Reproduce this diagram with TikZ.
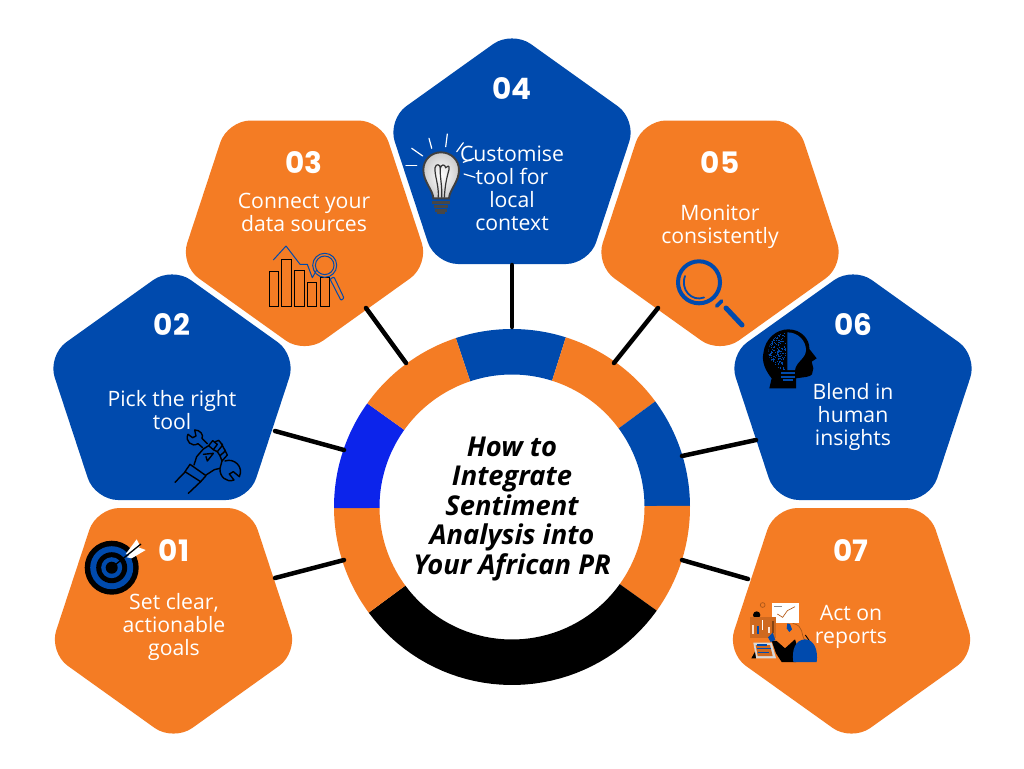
\documentclass[tikz,border=0pt]{standalone}
\usepackage{fontspec}
\setmainfont{Open Sans}
\newfontfamily\numfont{Poppins}
\definecolor{orng}{HTML}{F47C24}
\definecolor{blu}{HTML}{004AAD}
\definecolor{brt}{HTML}{0C24EB}
\tikzset{
 lab/.style={text=white,font=\fontsize{21.2}{23}\selectfont,align=center,inner sep=0pt,anchor=center},
 num/.style={text=white,font=\numfont\bfseries\fontsize{29.5}{30}\selectfont,inner sep=0pt,anchor=center},
 ttl/.style={text=black,font=\bfseries\itshape\fontsize{27.3}{29.5}\selectfont,align=center,inner sep=0pt,anchor=center},
 conn/.style={draw=black,line width=4.5pt,line cap=round},
 ink/.style={draw=black,line width=1.4pt,line join=round,line cap=round},
 ray/.style={draw=white,line width=1.2pt,line cap=round},
 zoomA/.style={shift={(170,425)},x=0.3333pt,y=-0.3333pt},
}
% name, cx, flat-side y, direction (+1 apex up, -1 apex down), colour
\newcommand{\pent}[5]{%
 \coordinate (#1) at (#2,#3-#4*104.4);
 \fill[#5,rounded corners=23pt]
  (#2,#3) -- (#2-77,#3) -- (#2-124.5,#3-#4*144.4) -- (#2,#3-#4*233.4)
  -- (#2+124.5,#3-#4*144.4) -- (#2+77,#3) -- cycle;
}
\newcommand{\seg}[3]{%
 \fill[#3] plot[domain=#1:#2,samples=40] ({512+178*cos(\x)},{507+178*sin(\x)})
  -- plot[domain=#2:#1,samples=40] ({512+132.5*cos(\x)},{507+132.5*sin(\x)}) -- cycle;
}
\begin{document}
\begin{tikzpicture}[x=1pt,y=-1pt]
\useasboundingbox (0,0) rectangle (1024,768);
\fill[white] (0,0) rectangle (1024,768);
% pentagons
\pent{p01}{173.5}{508}{-1}{orng}
\pent{p02}{172}{500}{1}{blu}
\pent{p03}{304.5}{120.5}{-1}{orng}
\pent{p04}{512}{264}{1}{blu}
\pent{p05}{720}{120.5}{-1}{orng}
\pent{p06}{853}{500}{1}{blu}
\pent{p07}{851.5}{508}{-1}{orng}
% ring
\seg{251.6}{287.6}{blu}
\seg{287.6}{323.6}{orng}
\seg{323.6}{359.6}{blu}
\seg{359.6}{395.6}{orng}
\seg{35.6}{143.6}{black}
\seg{143.6}{179.6}{orng}
\seg{179.6}{215.6}{brt}
\seg{215.6}{251.6}{orng}
% connector ends
\coordinate (a1) at (275,578); \coordinate (b1) at (344,560);
\coordinate (a2) at (275,431); \coordinate (b2) at (344,450);
\coordinate (a3) at (366,308); \coordinate (b3) at (406,363);
\coordinate (a4) at (512,265); \coordinate (b4) at (512,327);
\coordinate (a5) at (658,308); \coordinate (b5) at (614,363);
\coordinate (a6) at (756,440); \coordinate (b6) at (682,456);
\coordinate (a7) at (748,579); \coordinate (b7) at (682,560);
\foreach \i in {1,...,7} {\draw[conn] (a\i) -- (b\i);}
% icon 01: target
\fill[black] (111.7,567.7) circle[radius=27];
\fill[blu] (111.7,567.7) circle[radius=21.5];
\fill[black] (111.7,567.7) circle[radius=15.5];
\fill[blu] (111.7,567.7) circle[radius=10.5];
\fill[black] (111.7,567.7) circle[radius=6];
\fill[white] (125.7,554) -- (136.7,539.3) -- (140,546) -- (131,556) -- cycle;
\fill[white] (126.7,557.3) -- (138.3,547.3) -- (145.7,550) -- (131.7,558.3) -- cycle;
\draw[black,line width=1.3pt] (111.7,567.7) -- (141,544);
% icon 02: fist with wrench
\begin{scope}[zoomA]
 \draw[ink] (54,28) -- (68,38) -- (78,33) -- (74,15) .. controls (90,14) and (102,30) .. (96,40) -- (112,56);
 \draw[ink] (54,28) .. controls (44,48) and (66,68) .. (84,56) -- (98,68);
 \draw[ink] (165,108) .. controls (192,98) and (222,125) .. (208,155) -- (190,140) -- (178,147) -- (192,165) .. controls (170,174) and (148,155) .. (150,130);
 \draw[ink] (72,120) -- (80,95) -- (100,72) -- (116,62);
 \draw[ink] (116,62) -- (128,47) -- (142,58) -- (130,74) -- (116,62);
 \draw[ink] (136,50) -- (146,46) -- (158,60) -- (142,80) -- (130,74);
 \draw[ink] (154,56) -- (166,78) -- (150,92) -- (142,80);
 \draw[ink] (164,74) -- (172,90) -- (156,108) -- (150,92);
 \draw[ink] (100,88) -- (130,85) -- (112,108) -- (108,95);
 \draw[ink] (156,108) -- (150,130) -- (133,134) -- (108,150);
 \draw[ink] (60,118) -- (108,152) -- (92,170) -- (45,140) -- cycle;
 \draw[ink] (46,140) -- (15,172) (92,170) -- (55,205);
\end{scope}
% icon 03: bars and magnifier
\foreach \xa/\ya in {269/271,281.7/259.3,294.7/270,307.3/282.7,320/277.7}
 {\draw[black,line width=1pt] (\xa,\ya) rectangle (\xa+9.3,306.7);}
\draw[blu,line width=1pt,line join=round] (273.3,260) -- (286,246) -- (300,264.3) -- (307.3,264.3) -- (312.3,277.7) -- (316.7,270);
\draw[blu,line width=1pt] (324.7,265.3) circle[radius=12];
\draw[blu,line width=1pt] (324.7,265.3) circle[radius=9.3];
\draw[blu,line width=1pt,rounded corners=1pt] (330,279) -- (334,277) -- (344,298) -- (341,300.5) -- cycle;
% icon 04: bulb
\foreach \xa/\ya/\xb/\yb in {411.7/148.3/422.7/156,406/165.7/416.7/165.7,429/138.3/431.7/148.3,447.3/134/445.7/146.7,463.3/142.7/456.7/151.7,474/158.3/463.3/162.3,464/174/475/177.3}
 {\draw[ray] (\xa,\ya) -- (\xb,\yb);}
\begin{scope}[shift={(405,135)},x=0.3333pt,y=-0.3333pt]
 \shade[draw=black!75,line width=1.9pt,inner color=white,outer color=black!20]
  (85,190) .. controls (84,165) and (55,140) .. (55,105)
  .. controls (55,75) and (78,52) .. (108,52) .. controls (138,52) and (162,75) .. (162,105)
  .. controls (162,140) and (133,165) .. (132,190) -- cycle;
 \draw[black!80,line width=1.2pt] (100,188) .. controls (102,150) and (88,120) .. (90,98)
  .. controls (92,86) and (106,86) .. (106,100) .. controls (108,88) and (120,86) .. (122,98)
  .. controls (124,92) and (136,90) .. (132,104) .. controls (126,125) and (120,150) .. (118,188);
 \draw[black!80,line width=1.2pt] (106,100) .. controls (104,125) and (112,150) .. (110,188);
 \fill[black!72] (82,197) rectangle (134,206);
 \fill[black!72] (86,209) rectangle (130,218);
 \fill[black!72] (90,221) rectangle (126,230);
 \fill[black!72] (96,230) rectangle (120,238);
\end{scope}
% icon 05: magnifier
\draw[blu,line width=4pt] (699,282.3) circle[radius=21];
\draw[blu,line width=1.8pt,line cap=round] (685,276) .. controls (680,290) and (692,302) .. (704,297.5);
\draw[blu,line width=3.6pt,line cap=round] (716.7,306) -- (721.7,301);
\draw[blu,line width=5pt,line cap=round] (726,308) -- (742,325);
% icon 06: head
\begin{scope}[shift={(760,325)},x=0.3333pt,y=-0.3333pt]
 \fill[black] (28,190) -- (35,160) .. controls (15,135) and (5,110) .. (10,85)
  .. controls (15,40) and (50,13) .. (85,13) .. controls (125,13) and (150,45) .. (148,72)
  -- (170,100) -- (155,110) -- (160,130) -- (156,148) .. controls (150,156) and (135,156) .. (108,160) -- (108,190) -- cycle;
 \fill[blu] (82,22) .. controls (115,22) and (138,48) .. (138,75) .. controls (138,100) and (108,110) .. (105,135) -- (82,135) -- cycle;
 \begin{scope}
  \clip (78,24) .. controls (50,24) and (25,50) .. (25,85) .. controls (25,105) and (50,120) .. (55,135) -- (78,135) -- cycle;
  \pgfmathsetseed{11}
  \foreach \i in {1,...,190} {
   \pgfmathsetmacro{\dx}{22+rnd*56}
   \pgfmathsetmacro{\dy}{24+rnd*111}
   \fill[blu] (\dx,\dy) rectangle ++(3.2,3.2);
  }
 \end{scope}
 \fill[blu] (62,140) rectangle (105,147);
 \fill[blu] (63,152) rectangle (105,158);
 \fill[blu] (68,163) rectangle (100,168);
\end{scope}
% icon 07: analyst
\begin{scope}[shift={(740,590)},x=0.3333pt,y=-0.3333pt]
 \fill[white] (95,40) rectangle (178,98);
 \draw[orng!75!black,line width=0.7pt] (112,72) -- (128,82) -- (142,62) -- (165,50);
 \draw[black!45,line width=0.6pt] (102,48) -- (125,48);
 \draw[orng!70!black,line width=0.7pt] (68,45) circle[radius=24pt*0.1];
 \fill[black] (50,75) circle[radius=11pt*0.3333];
 \fill[orng!85!black] (30,82) rectangle (108,145);
 \fill[white!75!orng] (37,105) rectangle (42,132);
 \fill[blu] (52,108) rectangle (56,132);
 \fill[white] (65,90) rectangle (70,120);
 \fill[white!80!orng] (85,112) rectangle (90,130);
 \fill[black!45!orng] (96,92) rectangle (102,128);
 \fill[white!85!black] (40,158) -- (95,158) -- (108,205) -- (48,205) -- cycle;
 \fill[orng!85!black] (47,165) -- (90,165) -- (98,198) -- (53,198) -- cycle;
 \fill[blu] (50,162) rectangle (80,167);
 \fill[blu] (52,174) rectangle (92,178);
 \fill[blu] (54,186) rectangle (88,190);
 \fill[black] (34,205) -- (45,185) -- (48,205) -- cycle;
 \fill[black] (95,152) -- (110,153) -- (135,175) -- (165,148) -- (172,170) -- (168,216) -- (125,216) -- (108,190) -- cycle;
 \fill[blu] (84,142) -- (98,128) -- (106,150) -- (92,156) -- cycle;
 \fill[blu] (142,100) -- (150,102) -- (156,118) -- (148,126) -- (140,115) -- cycle;
 \draw[orng!70!black,line width=0.7pt] (158,100) .. controls (195,108) and (180,135) .. (196,152);
 \draw[black,line width=0.9pt] (196,135) -- (208,152);
 \fill[blu] (160,216) .. controls (155,180) and (165,150) .. (195,148) .. controls (222,148) and (235,180) .. (230,216) -- cycle;
\end{scope}
% text
\node[num] (n1) at (174,550.7) {01};
\node[lab] (t1) at (174,627) {Set clear,\\actionable\\goals};
\node[num] (n2) at (172,324.3) {02};
\node[lab] (t2) at (172,410.5) {Pick the right\\tool};
\node[num] (n3) at (304,162.5) {03};
\node[lab] (t3) at (304,212.5) {Connect your\\data sources};
\node[num] (n4) at (512,88.5) {04};
\node[lab] (t4) at (512,188.5) {Customise\\tool for\\local\\context};
\node[num] (n5) at (720,162.5) {05};
\node[lab] (t5) at (720,227) {Monitor\\consistently};
\node[num] (n6) at (853,324.5) {06};
\node[lab] (t6) at (853,417) {Blend in\\human\\insights};
\node[num] (n7) at (851,550.7) {07};
\node[lab] (t7) at (851,627) {Act on\\reports};
\node[ttl] (title) at (512,509) {How to\\Integrate\\Sentiment\\Analysis into\\Your African PR};
\end{tikzpicture}
\end{document}
